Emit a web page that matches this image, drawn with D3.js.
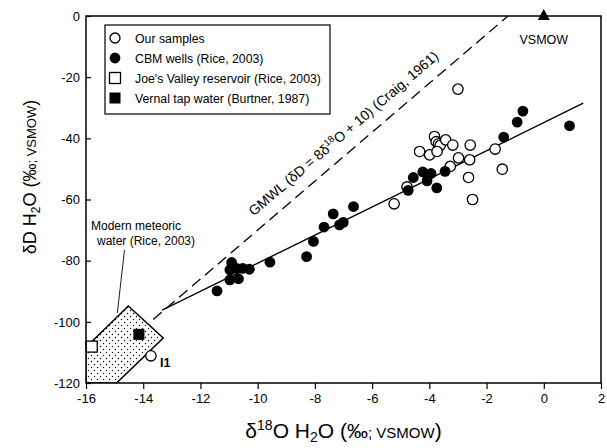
<!DOCTYPE html>
<html><head><meta charset="utf-8">
<script src="https://cdn.jsdelivr.net/npm/d3@7"></script>
<style>
body{margin:0;background:#fff}
svg{display:block;font-family:"Liberation Sans",Arial,sans-serif}
</style>
</head><body><div id="chart"></div>
<script>
// ---------------- data ----------------
const xTicks = [-16,-14,-12,-10,-8,-6,-4,-2,0,2];
const yTicks = [0,-20,-40,-60,-80,-100,-120];

// Our samples (open circles)
const ourD18O = [-3.0,-3.82,-3.76,-3.68,-3.62,-3.43,-3.18,-4.34,-3.99,-3.73,-2.57,-2.98,-2.59,-3.27,-1.70,-1.45,-2.63,-2.49,-4.78,-5.23,-13.73];
const ourDD   = [-23.9,-39.4,-41.1,-41.8,-42.3,-40.5,-42.2,-44.3,-45.4,-44.3,-42.2,-46.4,-47.0,-49.2,-43.5,-50.1,-52.8,-60.0,-55.9,-61.4,-111.1];

// CBM wells (Rice, 2003) (filled circles)
const cbmD18O = [-11.42,-10.91,-10.97,-10.73,-10.52,-10.29,-10.97,-10.67,-9.57,-8.29,-8.05,-7.68,-7.36,-7.14,-7.01,-6.65,-4.74,-4.56,-4.23,-3.94,-4.08,-3.74,-3.45,-1.40,-0.93,-0.73,0.90];
const cbmDD   = [-89.9,-80.6,-83.0,-82.5,-82.5,-82.8,-86.3,-85.9,-80.5,-78.7,-73.7,-69.0,-64.7,-68.3,-67.5,-62.3,-57.0,-52.8,-51.0,-51.5,-53.9,-56.2,-50.8,-39.6,-34.7,-31.1,-35.9];

// Joe's Valley reservoir (open square), Vernal tap water (filled square)
const joesD18O = [-15.8];   const joesDD = [-108.1];
const vernalD18O = [-14.15]; const vernalDD = [-104.1];
// VSMOW standard (triangle)
const vsmowD18O = [0]; const vsmowDD = [0];

// Modern meteoric water field (Rice, 2003) polygon vertices
const meteoricD18O = [-14.52,-13.30,-14.93,-16.0,-16.0];
const meteoricDD   = [-94.8,-105.3,-120.0,-120.0,-108.3];

// regression line through CBM wells (end points)
const regD18O = [-13.34, 1.38];
const regDD   = [-96.2, -28.5];

// GMWL: dD = 8 d18O + 10 (Craig, 1961), drawn range
const gmwlD18O = [-13.65, -1.25];
const gmwlSlope = 8, gmwlIntercept = 10;

const legendLabels = ["Our samples","CBM wells (Rice, 2003)","Joe's Valley reservoir (Rice, 2003)","Vernal tap water (Burtner, 1987)"];

// ---------------- layout ----------------
const W = 607, H = 448;
const margin = {left:86, right:6, top:16, bottom:65};
const x = d3.scaleLinear().domain([-16,2]).range([margin.left, W - margin.right]);
const y = d3.scaleLinear().domain([-120,0]).range([H - margin.bottom, margin.top]);

const svg = d3.select("#chart").append("svg").attr("width",W).attr("height",H);

const defs = svg.append("defs");
const pat = defs.append("pattern").attr("id","dots").attr("patternUnits","userSpaceOnUse")
  .attr("width",6).attr("height",6);
pat.append("circle").attr("cx",1.5).attr("cy",1.5).attr("r",0.7).attr("fill","#000");
pat.append("circle").attr("cx",4.5).attr("cy",4.5).attr("r",0.7).attr("fill","#000");
defs.append("clipPath").attr("id","plotclip").append("rect")
  .attr("x",x(-16)).attr("y",y(0)).attr("width",x(2)-x(-16)).attr("height",y(-120)-y(0));

// meteoric water polygon
const poly = meteoricD18O.map((d,i)=>[x(d), y(meteoricDD[i])]);
svg.append("path").attr("d", d3.line()(poly) + "Z")
  .attr("fill","url(#dots)").attr("stroke","#000").attr("stroke-width",1.5)
  .attr("clip-path","url(#plotclip)");

// GMWL dashed line
svg.append("line")
  .attr("x1", x(gmwlD18O[0])).attr("y1", y(gmwlSlope*gmwlD18O[0]+gmwlIntercept))
  .attr("x2", x(gmwlD18O[1])).attr("y2", y(gmwlSlope*gmwlD18O[1]+gmwlIntercept))
  .attr("stroke","#000").attr("stroke-width",1.3).attr("stroke-dasharray","11,6");

// regression line
svg.append("line")
  .attr("x1", x(regD18O[0])).attr("y1", y(regDD[0]))
  .attr("x2", x(regD18O[1])).attr("y2", y(regDD[1]))
  .attr("stroke","#000").attr("stroke-width",1.4);

// leader line for meteoric water label
svg.append("line").attr("x1",124.5).attr("y1",250).attr("x2",117.3).attr("y2",313)
  .attr("stroke","#000").attr("stroke-width",0.9);

// GMWL label
const ang = Math.atan2(y(gmwlSlope*-2+gmwlIntercept)-y(gmwlSlope*-10+gmwlIntercept), x(-2)-x(-10))*180/Math.PI;
const lx = x(-10.1) - 1, ly = y(gmwlSlope*-10.1+gmwlIntercept) - 16;
const gt = svg.append("text").attr("transform",`translate(${lx},${ly}) rotate(${ang})`)
  .attr("font-size",14);
gt.append("tspan").text("GMWL (δD = 8δ");
gt.append("tspan").attr("font-size",9.5).attr("dy",-5.5).text("18");
gt.append("tspan").attr("dy",5.5).text("O + 10) (Craig, 1961)");

// modern meteoric label
svg.append("text").attr("x",91).attr("y",230).attr("font-size",12).text("Modern meteoric");
svg.append("text").attr("x",97).attr("y",245).attr("font-size",12).text("water (Rice, 2003)");

// points: open circles
svg.append("g").selectAll("circle").data(ourD18O).join("circle")
  .attr("cx",d=>x(d)).attr("cy",(d,i)=>y(ourDD[i])).attr("r",5.2)
  .attr("fill","#fff").attr("stroke","#000").attr("stroke-width",1.3);
// filled circles
svg.append("g").selectAll("circle").data(cbmD18O).join("circle")
  .attr("cx",d=>x(d)).attr("cy",(d,i)=>y(cbmDD[i])).attr("r",5.4)
  .attr("fill","#000");
// open square
svg.append("g").selectAll("rect").data(joesD18O).join("rect")
  .attr("x",d=>x(d)-5.5).attr("y",(d,i)=>y(joesDD[i])-5.5).attr("width",11).attr("height",11)
  .attr("fill","#fff").attr("stroke","#000").attr("stroke-width",1.3);
// filled square
svg.append("g").selectAll("rect").data(vernalD18O).join("rect")
  .attr("x",d=>x(d)-5.5).attr("y",(d,i)=>y(vernalDD[i])-5.5).attr("width",11).attr("height",11)
  .attr("fill","#000");
// triangle
svg.append("g").selectAll("path").data(vsmowD18O).join("path")
  .attr("d",(d,i)=>{const cx=x(d), cy=y(vsmowDD[i]); return `M${cx},${cy-7}L${cx+6},${cy+4}L${cx-6},${cy+4}Z`;})
  .attr("fill","#000");

svg.append("text").attr("x",x(0)).attr("y",y(0)+28).attr("text-anchor","middle").attr("font-size",12.5).text("VSMOW");
svg.append("text").attr("x",x(-13.73)+9).attr("y",y(-111.1)+11).attr("font-size",12.5).attr("font-weight","bold").text("I1");

// axes
const xAxis = d3.axisBottom(x).tickValues(xTicks).tickFormat(d=>String(d)).tickSizeInner(6).tickSizeOuter(0).tickPadding(5);
const gx = svg.append("g").attr("transform",`translate(0,${y(-120)})`).call(xAxis);
const yAxis = d3.axisLeft(y).tickValues(yTicks).tickFormat(d=>String(d)).tickSizeInner(-5).tickSizeOuter(0).tickPadding(6);
const gy = svg.append("g").attr("transform",`translate(${x(-16)},0)`).call(yAxis);
[gx,gy].forEach(g=>{
  g.select(".domain").remove();
  g.selectAll("line").attr("stroke","#000").attr("stroke-width",1.2);
  g.selectAll("text").attr("font-size",13).attr("fill","#000").attr("font-family","Liberation Sans, Arial, sans-serif");
});
gy.selectAll("text").attr("x",-6);

// frame
svg.append("rect").attr("x",x(-16)).attr("y",y(0)).attr("width",x(2)-x(-16)).attr("height",y(-120)-y(0))
  .attr("fill","none").attr("stroke","#000").attr("stroke-width",1.5);

// legend
const lg = svg.append("g");
lg.append("rect").attr("x",105).attr("y",25).attr("width",225).attr("height",89)
  .attr("fill","#fff").attr("stroke","#000").attr("stroke-width",1.2);
legendLabels.forEach((t,i)=>{
  const cy = 38 + i*20, cx = 115;
  if(i===0) lg.append("circle").attr("cx",cx).attr("cy",cy).attr("r",5).attr("fill","#fff").attr("stroke","#000").attr("stroke-width",1.3);
  if(i===1) lg.append("circle").attr("cx",cx).attr("cy",cy).attr("r",5.4).attr("fill","#000");
  if(i===2) lg.append("rect").attr("x",cx-5.5).attr("y",cy-5.5).attr("width",11).attr("height",11).attr("fill","#fff").attr("stroke","#000").attr("stroke-width",1.3);
  if(i===3) lg.append("rect").attr("x",cx-5.5).attr("y",cy-5.5).attr("width",11).attr("height",11).attr("fill","#000");
  lg.append("text").attr("x",135).attr("y",cy+4.5).attr("font-size",12.3).text(t);
});

// axis titles
const xt = svg.append("text").attr("x",(x(-16)+x(2))/2).attr("y",438).attr("text-anchor","middle").attr("font-size",21);
xt.append("tspan").text("δ");
xt.append("tspan").attr("font-size",14).attr("dy",-8).text("18");
xt.append("tspan").attr("dy",8).text("O H");
xt.append("tspan").attr("font-size",14).attr("dy",4).text("2");
xt.append("tspan").attr("dy",-4).text("O (‰");
xt.append("tspan").attr("font-size",15).text("; VSMOW");
xt.append("tspan").text(")");

const yt = svg.append("text").attr("transform",`translate(36,177) rotate(-90)`).attr("text-anchor","middle").attr("font-size",18);
yt.append("tspan").text("δD H");
yt.append("tspan").attr("font-size",12).attr("dy",4).text("2");
yt.append("tspan").attr("dy",-4).text("O (‰");
yt.append("tspan").attr("font-size",13).text("; VSMOW");
yt.append("tspan").text(")");
</script>
</body></html>
